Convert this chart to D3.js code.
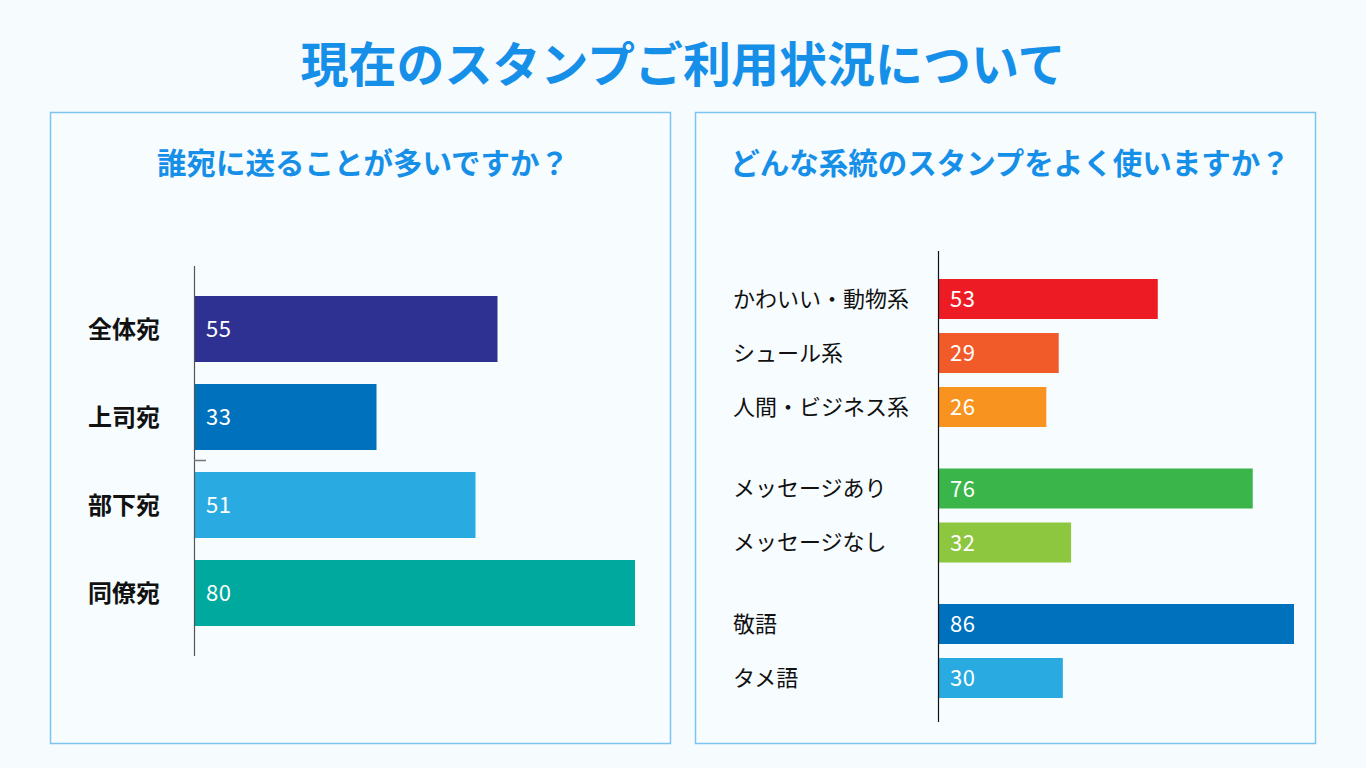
<!DOCTYPE html>
<html><head><meta charset="utf-8">
<script src="https://cdn.jsdelivr.net/npm/d3@7"></script>
<style>
html,body{margin:0;padding:0;background:#f6fbfe;}
svg{display:block;}
text{font-family:"Noto Sans CJK JP","Noto Sans",sans-serif;}
</style></head>
<body>
<svg id="chart" width="1366" height="768"></svg>
<script>
const title = "現在のスタンプご利用状況について";
const leftTitle = "誰宛に送ることが多いですか？";
const rightTitle = "どんな系統のスタンプをよく使いますか？";

const leftCategories = ["全体宛", "上司宛", "部下宛", "同僚宛"];
const leftValues = [55, 33, 51, 80];
const leftColors = ["#2e3192", "#0071bc", "#29abe2", "#00a99d"];

const rightCategories = ["かわいい・動物系", "シュール系", "人間・ビジネス系", "メッセージあり", "メッセージなし", "敬語", "タメ語"];
const rightValues = [53, 29, 26, 76, 32, 86, 30];
const rightGroups = [0, 0, 0, 1, 1, 2, 2];
const rightColors = ["#ed1c24", "#f15a29", "#f7931e", "#39b54a", "#8dc63f", "#0071bc", "#29abe2"];

const svg = d3.select("#chart");
const blue = "#168fe8";
const valFont = "Inter, 'Liberation Sans', sans-serif";

svg.append("rect").attr("width",1366).attr("height",768).attr("fill","#f6fbfe");

svg.append("text").attr("x",683).attr("y",82).attr("text-anchor","middle")
  .attr("font-size",48).attr("font-weight","bold").attr("fill",blue).text(title);

// panels
[[50,112],[695,112]].forEach(([x,y])=>{
  svg.append("rect").attr("x",x+0.5).attr("y",y+0.5).attr("width",620).attr("height",631)
    .attr("fill","#f7fcff").attr("stroke","#7cc4f2").attr("stroke-width",1.5);
});

svg.append("text").attr("x",363).attr("y",174).attr("text-anchor","middle")
  .attr("font-size",29.5).attr("font-weight","bold").attr("fill",blue).text(leftTitle);
svg.append("text").attr("x",1010).attr("y",174).attr("text-anchor","middle")
  .attr("font-size",29.5).attr("font-weight","bold").attr("fill",blue).text(rightTitle);

// LEFT chart
{
  const x0 = 195;
  const x = d3.scaleLinear().domain([0,80]).range([x0, 635]);
  const y = d3.scaleBand().domain(leftCategories).range([296, 626]).paddingInner(0.25).paddingOuter(0);
  const g = svg.append("g");
  g.selectAll("rect.bar").data(leftCategories).join("rect").attr("class","bar")
    .attr("x", x(0)).attr("y", d=>y(d)).attr("height", y.bandwidth())
    .attr("width", (d,i)=>x(leftValues[i])-x(0)).attr("fill",(d,i)=>leftColors[i]);
  g.append("line").attr("x1",194.5).attr("x2",194.5).attr("y1",266).attr("y2",656)
    .attr("stroke","#555").attr("stroke-width",1.2);
  g.append("line").attr("x1",194).attr("x2",206).attr("y1",460.5).attr("y2",460.5)
    .attr("stroke","#777").attr("stroke-width",1.5);
  g.selectAll("text.cat").data(leftCategories).join("text").attr("class","cat")
    .attr("x",88).attr("y",d=>y(d)+y.bandwidth()/2).attr("dy","0.38em")
    .attr("font-size",24).attr("font-weight","bold").attr("fill","#111").text(d=>d);
  g.selectAll("text.val").data(leftValues).join("text").attr("class","val")
    .attr("x",206).attr("y",(d,i)=>y(leftCategories[i])+y.bandwidth()/2).attr("dy","0.38em")
    .attr("font-family",valFont).attr("font-size",22).attr("letter-spacing",0.5).attr("fill","#fff").text(d=>d);
}

// RIGHT chart
{
  const x0 = 939;
  const x = d3.scaleLinear().domain([0,86]).range([x0, 1294]);
  const step = 54, gap = 27.5;
  const y = d3.scaleLinear().domain([0,1]).range([279, 279+step]);
  const yPos = i => y(i) + rightGroups[i]*gap;
  const bh = 40;
  const g = svg.append("g");
  g.selectAll("rect.bar").data(rightValues).join("rect").attr("class","bar")
    .attr("x", x(0)).attr("y",(d,i)=>yPos(i)).attr("height",bh)
    .attr("width", d=>x(d)-x(0)).attr("fill",(d,i)=>rightColors[i]);
  g.append("line").attr("x1",938.5).attr("x2",938.5).attr("y1",251).attr("y2",722)
    .attr("stroke","#111").attr("stroke-width",1.2);
  g.selectAll("text.cat").data(rightCategories).join("text").attr("class","cat")
    .attr("x",733).attr("y",(d,i)=>yPos(i)+bh/2).attr("dy","0.36em")
    .attr("font-size",22).attr("fill","#111").text(d=>d);
  g.selectAll("text.val").data(rightValues).join("text").attr("class","val")
    .attr("x",950).attr("y",(d,i)=>yPos(i)+bh/2).attr("dy","0.38em")
    .attr("font-family",valFont).attr("font-size",22).attr("letter-spacing",0.5).attr("fill","#fff").text(d=>d);
}
</script>
</body></html>
